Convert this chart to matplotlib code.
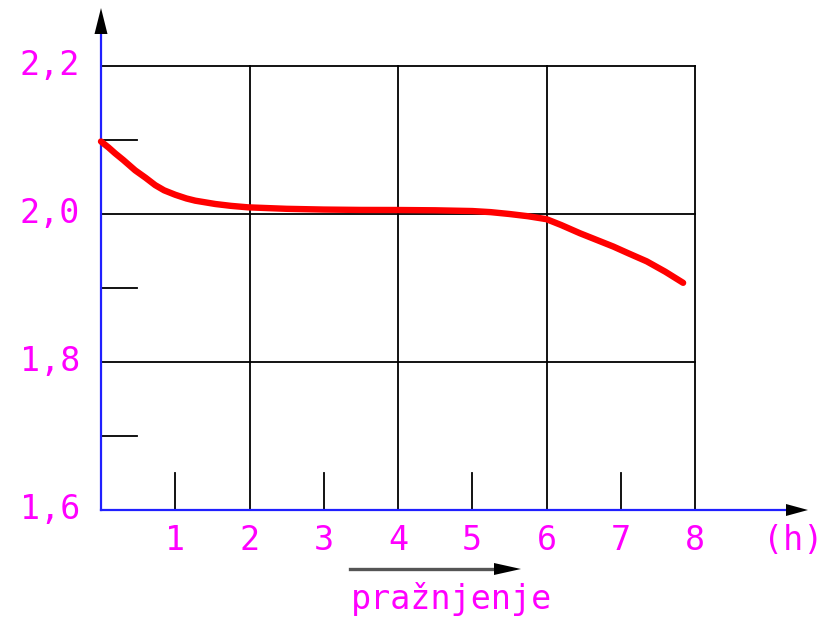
import matplotlib
matplotlib.use("Agg")
import matplotlib.pyplot as plt

# ---- data ----
hours = [0.0, 0.1, 0.19, 0.3, 0.46, 0.6, 0.73, 0.85, 1.0, 1.15, 1.27, 1.54,
         1.75, 1.98, 2.5, 3.0, 3.5, 4.0, 4.5, 5.0, 5.25, 5.5, 5.75, 6.0,
         6.2, 6.45, 6.7, 6.9, 7.1, 7.35, 7.6, 7.84]
volts = [2.098, 2.090, 2.082, 2.073, 2.059, 2.049, 2.039, 2.032, 2.026,
         2.021, 2.018, 2.0135, 2.011, 2.009, 2.007, 2.006, 2.0055, 2.0054,
         2.005, 2.004, 2.0025, 2.0, 1.997, 1.993, 1.985, 1.974, 1.964,
         1.956, 1.947, 1.936, 1.922, 1.907]

x_ticks = [1, 2, 3, 4, 5, 6, 7, 8]
x_tick_labels = ["1", "2", "3", "4", "5", "6", "7", "8"]
x_grid = [2, 4, 6, 8]
x_minor = [1, 3, 5, 7]
y_grid = [1.8, 2.0, 2.2]
y_minor = [1.7, 1.9, 2.1]
y_tick_labels = {1.6: "1,6", 1.8: "1,8", 2.0: "2,0", 2.2: "2,2"}
x_unit_label = "(h)"
x_title = "pražnjenje"

# ---- layout: pixel scale of the reference ----
W, H = 824, 618
PX_X = 74.25      # pixels per hour
PX_Y = 740.0      # pixels per volt
X0_PX, Y0_PX = 101, 510   # pixel of (0, 1.6)

def px2x(px):
    return (px - X0_PX) / PX_X

def px2y(py):
    return 1.6 + (Y0_PX - py) / PX_Y

fig = plt.figure(figsize=(W / 100, H / 100), dpi=100)
ax = fig.add_axes([0, 0, 1, 1])
ax.set_xlim(px2x(0), px2x(W))
ax.set_ylim(px2y(H), px2y(0))
ax.axis("off")

MAG = "#FF00FF"
FONT = dict(family="DejaVu Sans Mono", fontsize=24, color=MAG)
GL = 1.3

# grid
for gy in y_grid:
    ax.plot([0, 8], [gy, gy], color="black", lw=GL, zorder=2)
for gx in x_grid:
    ax.plot([gx, gx], [1.6, 2.2], color="black", lw=GL, zorder=2)
# short ticks
for my in y_minor:
    ax.plot([0, px2x(137)], [my, my], color="black", lw=GL, zorder=2)
for mx in x_minor:
    ax.plot([mx, mx], [1.6, px2y(473)], color="black", lw=GL, zorder=2)

# axes (blue) with black arrow heads
ybase = px2y(34)
ax.plot([0, 0], [1.6, ybase], color="#2020FF", lw=1.6, zorder=3)
ax.fill([0, -6.5 / PX_X, 6.5 / PX_X], [px2y(8), ybase, ybase],
        color="black", zorder=4, lw=0)
xbase = px2x(786)
ax.plot([0, xbase], [1.6, 1.6], color="#2020FF", lw=1.6, zorder=3)
ax.fill([px2x(808), xbase, xbase], [1.6, 1.6 + 6 / PX_Y, 1.6 - 6 / PX_Y],
        color="black", zorder=4, lw=0)

# curve
ax.plot(hours, volts, color="#FF0000", lw=4.6, solid_capstyle="round",
        solid_joinstyle="round", zorder=5)

# labels
for val, lab in y_tick_labels.items():
    ax.text(px2x(80), val, lab, ha="right", va="center", **FONT)
for xv, lab in zip(x_ticks, x_tick_labels):
    ax.text(xv, px2y(541), lab, ha="center", va="center", **FONT)
ax.text(px2x(793), px2y(541), x_unit_label, ha="center", va="center", **FONT)

# discharge arrow and title
ay = px2y(569)
ab = px2x(494)
ax.plot([px2x(350), ab], [ay, ay], color="#555555", lw=2.4, zorder=3)
ax.fill([px2x(521), ab, ab], [ay, ay + 6 / PX_Y, ay - 6 / PX_Y],
        color="black", zorder=4, lw=0)
ax.text(px2x(452), px2y(599), x_title, ha="center", va="center", **FONT)

fig.savefig("out.png", dpi=100)
